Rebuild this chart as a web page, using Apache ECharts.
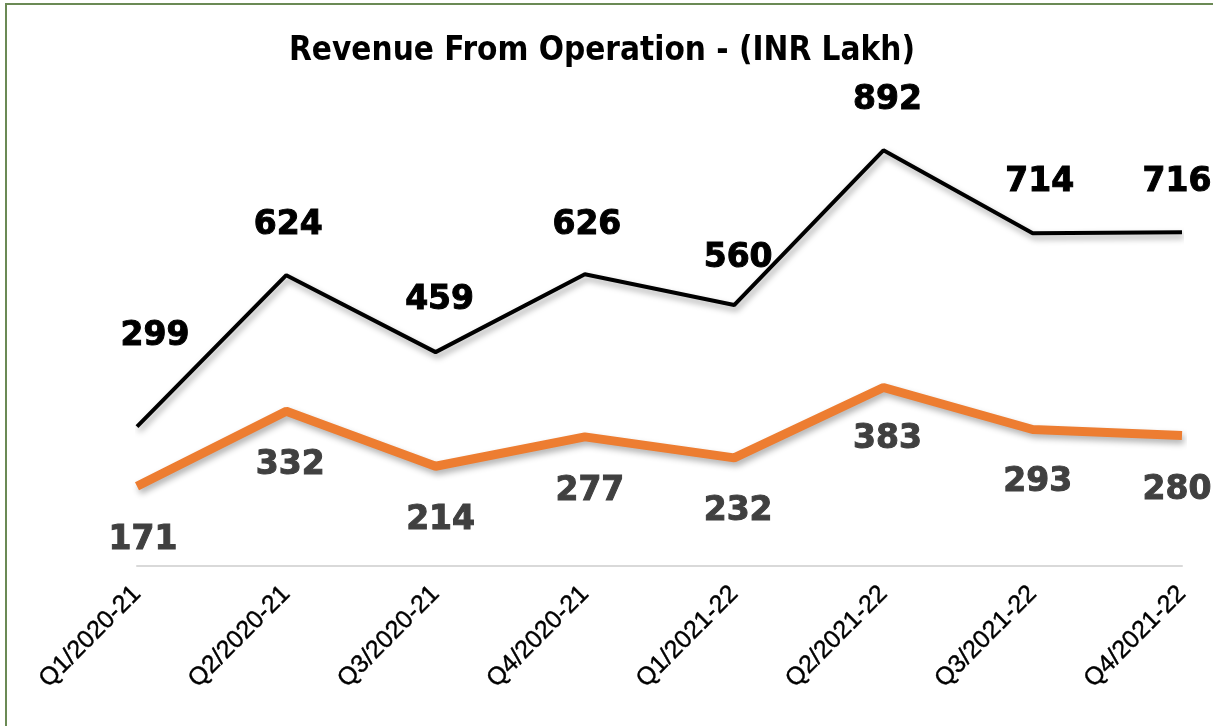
<!DOCTYPE html>
<html>
<head>
<meta charset="utf-8">
<script src="https://cdn.jsdelivr.net/npm/echarts@6/dist/echarts.min.js"></script>
<style>
  html, body { margin: 0; padding: 0; background: #ffffff; }
  #wrap { position: relative; width: 1213px; height: 726px; overflow: hidden; background: #ffffff; }
  #frame { position: absolute; left: 5px; top: 3px; right: -4px; bottom: -4px; border-top: 2px solid #6b8a55; border-left: 2px solid #6b8a55; pointer-events: none; }
  #chart { position: absolute; left: 0; top: 0; width: 1213px; height: 726px; }
</style>
</head>
<body>
<div id="wrap">
  <div id="chart"></div>
  <div id="frame"></div>
</div>
<script>
const titleText = 'Revenue From Operation - (INR Lakh)';
const categories = ['Q1/2020-21', 'Q2/2020-21', 'Q3/2020-21', 'Q4/2020-21', 'Q1/2021-22', 'Q2/2021-22', 'Q3/2021-22', 'Q4/2021-22'];
const upperSeries = [299, 624, 459, 626, 560, 892, 714, 716];
const lowerSeries = [171, 332, 214, 277, 232, 383, 293, 280];

// label layout (pixel offsets from each point), kept apart from the data
const upperLabelOffsets = [[18, -90], [2, -50], [4, -52], [2, -49], [4, -47], [4, -50], [7, -51], [-5, -50]];
const lowerLabelOffsets = [[6, 54], [4, 54], [5, 54], [5, 55], [4, 54], [4, 52], [5, 53], [-5, 55]];

const labelFont = { fontFamily: 'DejaVu Sans', fontWeight: 'bold', fontSize: 33, textBorderWidth: 1 };

function buildData(values, offsets) {
  return values.map((v, i) => ({ value: v, label: { offset: offsets[i] } }));
}

const chart = echarts.init(document.getElementById('chart'), null, { renderer: 'canvas' });
chart.setOption({
  animation: false,
  backgroundColor: 'transparent',
  title: {
    text: titleText,
    left: 284,
    top: 30,
    textStyle: { fontFamily: 'DejaVu Sans Condensed', fontWeight: 'bold', fontSize: 33, color: '#000000' }
  },
  grid: { left: 137, right: 31, top: 100, bottom: 160, containLabel: false },
  xAxis: {
    type: 'category',
    data: categories,
    boundaryGap: false,
    axisLine: { show: true, lineStyle: { color: '#d9d9d9', width: 2 } },
    axisTick: { show: false },
    axisLabel: { rotate: 45, margin: 24, fontFamily: 'Liberation Sans', fontSize: 25, color: '#000000', interval: 0, textBorderColor: '#000000', textBorderWidth: 0.4 }
  },
  yAxis: {
    type: 'value',
    min: 0,
    max: 1000,
    show: false,
    splitLine: { show: false }
  },
  series: [
    {
      name: 'Upper',
      type: 'line',
      data: buildData(upperSeries, upperLabelOffsets),
      symbol: 'circle',
      symbolSize: 0.1,
      itemStyle: { color: '#000000' },
      lineStyle: { color: '#000000', width: 4, shadowColor: 'rgba(0,0,0,0.35)', shadowBlur: 6, shadowOffsetX: 2, shadowOffsetY: 4 },
      label: Object.assign({ show: true, position: 'inside', color: '#000000', textBorderColor: '#000000' }, labelFont),
      z: 3
    },
    {
      name: 'Lower',
      type: 'line',
      data: buildData(lowerSeries, lowerLabelOffsets),
      symbol: 'circle',
      symbolSize: 0.1,
      itemStyle: { color: '#ED7D31' },
      lineStyle: { color: '#ED7D31', width: 9, shadowColor: 'rgba(0,0,0,0.3)', shadowBlur: 6, shadowOffsetX: 2, shadowOffsetY: 4 },
      label: Object.assign({ show: true, position: 'inside', color: '#404040', textBorderColor: '#404040' }, labelFont),
      z: 2
    }
  ]
});
</script>
</body>
</html>
